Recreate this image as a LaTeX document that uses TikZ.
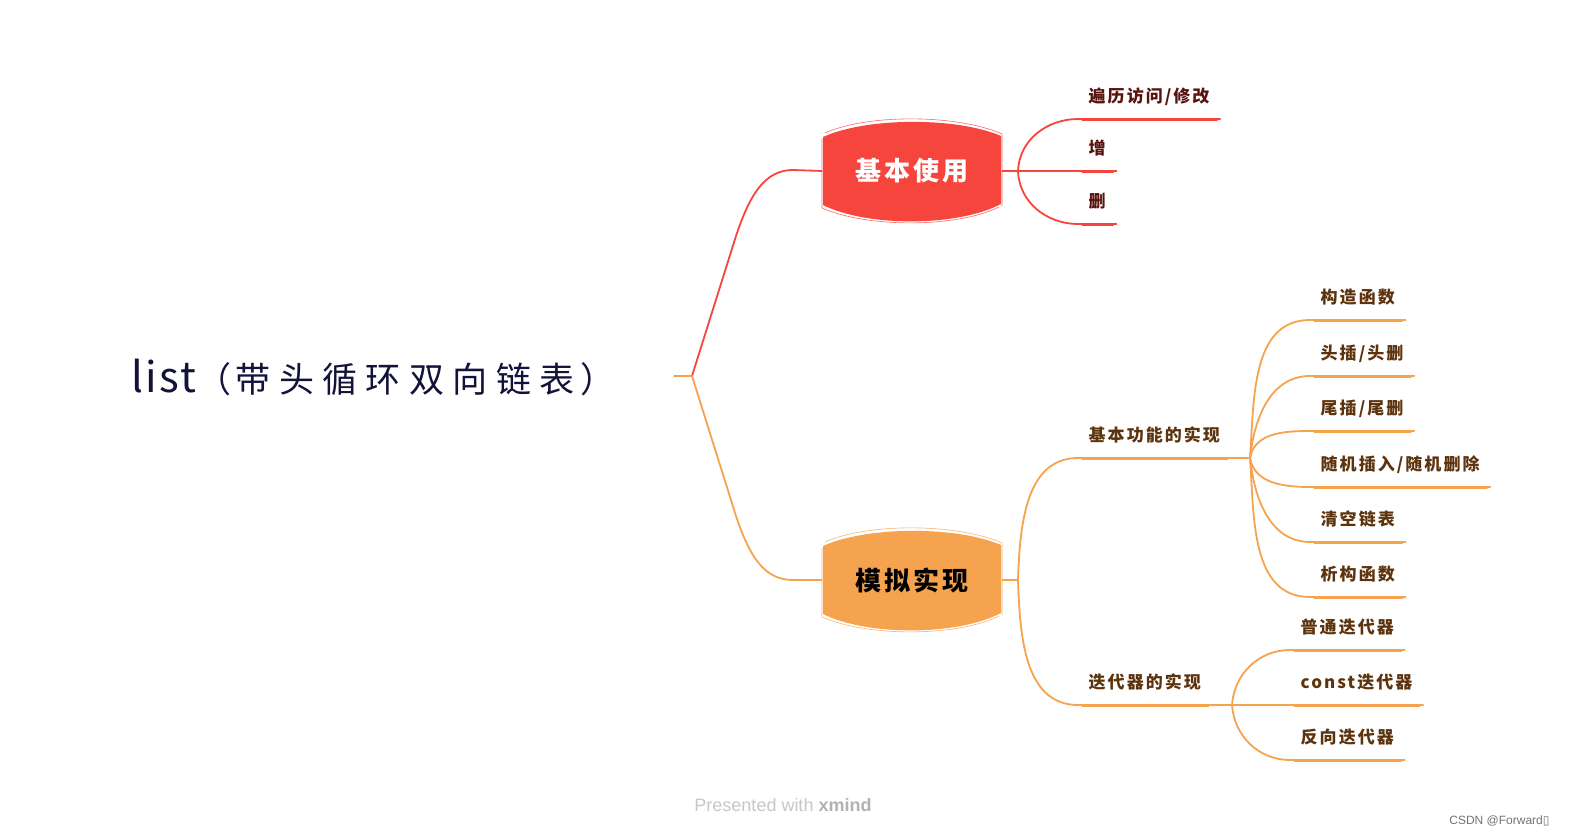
\documentclass[tikz,border=0pt]{standalone}
\usepackage{fontspec}
\setmainfont{Liberation Sans}
\newfontfamily\cjkroot[LetterSpace=24]{Noto Sans CJK SC}
\newfontfamily\latroot[LetterSpace=6]{Noto Sans CJK SC}
\newfontfamily\cjkleaf[LetterSpace=12]{Noto Sans CJK SC}
\newfontfamily\cjkmain[LetterSpace=12]{Noto Sans CJK SC}
\newfontfamily\symbfont{DejaVu Sans}
\definecolor{cred}{HTML}{F6453D}
\definecolor{corange}{HTML}{F5A34E}
\definecolor{tred}{HTML}{5A1410}
\definecolor{tbrown}{HTML}{5C330C}
\definecolor{troot}{HTML}{12123A}
\newcommand{\ulinkleaf}[4]{%
  \draw[conn,#1] (#3.south west) -- (#3.south east);
  \draw[thinl,#1] ([yshift=-1.6pt,xshift=4pt]#3.south west) -- ([yshift=-1.6pt,xshift=-3pt]#3.south east);
  \draw[conn,#1] (#2) to[out=#4,in=180] (#3.south west);}
\newcommand{\ustraightleaf}[3]{%
  \draw[conn,#1] (#3.south west) -- (#3.south east);
  \draw[thinl,#1] ([yshift=-1.6pt,xshift=4pt]#3.south west) -- ([yshift=-1.6pt,xshift=-3pt]#3.south east);
  \draw[conn,#1] (#2) -- (#3.south west);}
\begin{document}
\begin{tikzpicture}[x=1pt,y=-1pt,
  conn/.style={line width=1.8pt,line cap=round},
  thinl/.style={line width=0.7pt,line cap=round},
  leafbox/.style={anchor=south west,inner xsep=10.5pt,inner ysep=0pt,text height=12pt,text depth=16pt,
    font=\cjkleaf\bfseries\fontsize{17}{17}\selectfont},
  mainbox/.style={minimum width=180pt,minimum height=93pt,inner sep=0pt,
    font=\cjkmain\bfseries\fontsize{26}{26}\selectfont},
  blob/.pic={
    \fill[#1] (-89,-34) -- (-89,34) .. controls (-45,56) and (45,56) .. (89,33)
      -- (89,-35) .. controls (45,-54) and (-45,-54) .. (-89,-34) -- cycle;
    \draw[#1!80!white,line width=0.6pt] (-87,-38) .. controls (-45,-57) and (45,-57) .. (90,-37) -- (90,35);
    \draw[#1!80!white,line width=0.6pt] (-90,-32) -- (-90,37) .. controls (-45,57) and (45,57) .. (87,36);
  }]
\fill[white] (0,0) rectangle (1570,837);
\useasboundingbox (0,0) rectangle (1570,837);

% root
\node[text=troot,anchor=west,inner sep=0pt] (root) at (131,377)
  {\latroot\fontsize{42}{42}\selectfont list\cjkroot\fontsize{35}{35}\selectfont（\hspace{4pt}带头循环双向链表\hspace{6pt}）};
\coordinate (rootOut) at (674,376);
\coordinate (rootHub) at (692,376);

% main nodes
\pic at (912,171) {blob=cred};
\node[mainbox,text=white] (n1) at (912,171) {基本使用};
\pic at (912,580) {blob=corange};
\node[mainbox,text=black] (n2) at (912,580) {模拟实现};

\draw[conn,corange] (rootOut) -- (rootHub);
\draw[conn,cred] (rootHub) -- (736,236) .. controls (750,194) and (765,170) .. (793,170) -- (n1.west);
\draw[conn,corange] (rootHub) -- (736,516) .. controls (750,558) and (765,580) .. (793,580) -- (n2.west);

% red branch
\coordinate (h1) at (1018,171);
\draw[conn,cred] (n1.east) -- (h1);
\node[leafbox,text=tred] (r1) at (1078,119) {遍历访问/修改};
\node[leafbox,text=tred] (r2) at (1078,171) {增};
\node[leafbox,text=tred] (r3) at (1078,224) {删};
\ulinkleaf{cred}{h1}{r1}{88}
\ustraightleaf{cred}{h1}{r2}
\ulinkleaf{cred}{h1}{r3}{-88}

% orange branch
\coordinate (h2) at (1018,580);
\draw[conn,corange] (n2.east) -- (h2);
\node[leafbox,text=tbrown] (b1) at (1078,458) {基本功能的实现};
\node[leafbox,text=tbrown] (b2) at (1078,705) {迭代器的实现};
\ulinkleaf{corange}{h2}{b1}{88}
\ulinkleaf{corange}{h2}{b2}{-88}

% basic functions
\coordinate (h3) at (1250,458);
\draw[conn,corange] (b1.south east) -- (h3);
\node[leafbox,text=tbrown] (c1) at (1310,320) {构造函数};
\node[leafbox,text=tbrown] (c2) at (1310,376) {头插/头删};
\node[leafbox,text=tbrown] (c3) at (1310,431) {尾插/尾删};
\node[leafbox,text=tbrown] (c4) at (1310,487) {随机插入/随机删除};
\node[leafbox,text=tbrown] (c5) at (1310,542) {清空链表};
\node[leafbox,text=tbrown] (c6) at (1310,597) {析构函数};
\ulinkleaf{corange}{h3}{c1}{86}
\ulinkleaf{corange}{h3}{c2}{84}
\ulinkleaf{corange}{h3}{c3}{80}
\ulinkleaf{corange}{h3}{c4}{-80}
\ulinkleaf{corange}{h3}{c5}{-84}
\ulinkleaf{corange}{h3}{c6}{-86}

% iterators
\coordinate (h4) at (1232,705);
\draw[conn,corange] (b2.south east) -- (h4);
\node[leafbox,text=tbrown] (d1) at (1290,650) {普通迭代器};
\node[leafbox,text=tbrown] (d2) at (1290,705) {const迭代器};
\node[leafbox,text=tbrown] (d3) at (1290,760) {反向迭代器};
\ulinkleaf{corange}{h4}{d1}{86}
\ustraightleaf{corange}{h4}{d2}
\ulinkleaf{corange}{h4}{d3}{-86}

% footer
\node[font=\fontsize{18}{18}\selectfont,text=black!22] (pw) at (783,805) {Presented with \textbf{\textcolor{black!30}{xmind}}};
\node[font=\fontsize{12}{12}\selectfont,text=black!55,anchor=east] (csdn) at (1553,821) {CSDN @Forward{\symbfont ▯}};
\end{tikzpicture}
\end{document}
